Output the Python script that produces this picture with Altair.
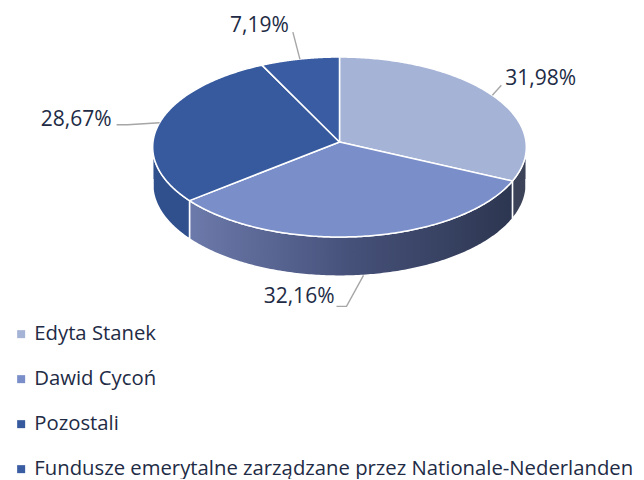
import altair as alt
import pandas as pd

# ---------------- data ----------------
names = [
    "Edyta Stanek",
    "Dawid Cycoń",
    "Pozostali",
    "Fundusze emerytalne zarządzane przez Nationale-Nederlanden",
]
values = [31.98, 32.16, 28.67, 7.19]
top_colors = ["#A5B3D6", "#7A8ECA", "#375A9F", "#3A5CA2"]

# ---------------- layout / style ----------------
W, H = 628, 471
CX, CY = 331.5, 134.0      # pie centre (chart coords, y down)
RX, RY = 186.5, 89.7       # rim radii
PERSP = 0.0556             # perspective strength
DEPTH = 37.0               # side height
N = 160                    # arc resolution
FONT = "Open Sans"
TEXT_COLOR = "#222B45"
LEADER = "#A6A6A6"

# label leader layout per slice: elbow offset, horizontal tail, text align, text offset
label_layout = [
    dict(ex=9, ey=-10, tail=0, align="left", tx=4, ty=0, front=False),
    dict(ex=-17, ey=31, tail=-10, align="right", tx=-2, ty=-3, front=True),
    dict(ex=-32, ey=2, tail=-11, align="right", tx=-5, ty=1, front=False),
    dict(ex=-7, ey=-27, tail=0, align="right", tx=-4, ty=0, front=False),
]

starts = []
acc = 0.0
for v in values:
    starts.append(acc)
    acc += v

xs = alt.Scale(domain=[0, W], nice=False, zero=False)
ys = alt.Scale(domain=[0, H], nice=False, zero=False, reverse=True)


def rim(th):
    s = f"(1/(1+{PERSP}*cos({th})))"
    return (f"{CX}+{RX}*sin({th})*{s}", f"{CY}-{RY}*cos({th})*{s}", s)


# ---------------- side faces ----------------
side_rows = []
for i, (n, v, st) in enumerate(zip(names, values, starts)):
    for k in range(N + 1):
        side_rows.append(dict(name=n, value=v, start=st, k=k))
side_df = pd.DataFrame(side_rows)

sx, sy, ss = rim("datum.th")
side_base = (
    alt.Chart(side_df)
    .transform_calculate(lo="max(datum.start, 25)", hi="min(datum.start + datum.value, 75)")
    .transform_filter("datum.hi > datum.lo")
    .transform_calculate(th=f"2*PI*(datum.lo + (datum.hi - datum.lo)*datum.k/{N})/100")
    .transform_calculate(x=sx, y=sy, y2=f"{sy} + {DEPTH}*{ss}")
)

dawid_grad = alt.Gradient(
    gradient="linear",
    stops=[alt.GradientStop(color="#6C7AAB", offset=0),
           alt.GradientStop(color="#46517A", offset=0.5),
           alt.GradientStop(color="#2D3650", offset=1)],
    x1=0, x2=1, y1=0, y2=0,
)
side_fills = ["#3C4358", dawid_grad, "#2F4F8D", "#2F4F8D"]

side_layers = []
for n, f in zip(names, side_fills):
    side_layers.append(
        side_base.transform_filter(alt.datum.name == n)
        .mark_area(fill=f, stroke="white", strokeWidth=1.5)
        .encode(
            x=alt.X("x:Q", scale=xs, axis=None),
            y=alt.Y("y:Q", scale=ys, axis=None),
            y2="y2:Q",
        )
    )

# ---------------- top faces ----------------
top_rows = []
for n, v, st in zip(names, values, starts):
    for o in range(N + 3):
        top_rows.append(dict(name=n, value=v, start=st, o=o))
top_df = pd.DataFrame(top_rows)

tx_, ty_, _ = rim("datum.th")
top = (
    alt.Chart(top_df)
    .transform_calculate(
        t=f"clamp((datum.o - 1)/{N}, 0, 1)",
        apex=f"datum.o == 0 || datum.o == {N + 2}",
    )
    .transform_calculate(th="2*PI*(datum.start + datum.value*datum.t)/100")
    .transform_calculate(
        x=f"datum.apex ? {CX} : {tx_}",
        y=f"datum.apex ? {CY} : {ty_}",
    )
    .mark_line(stroke="white", strokeWidth=1.5, strokeJoin="round")
    .encode(
        x=alt.X("x:Q", scale=xs, axis=None),
        y=alt.Y("y:Q", scale=ys, axis=None),
        order="o:Q",
        fill=alt.Fill(
            "name:N",
            scale=alt.Scale(domain=names, range=top_colors),
            sort=names,
            legend=alt.Legend(
                title=None,
                orient="none",
                legendX=3,
                legendY=316,
                direction="vertical",
                symbolType="square",
                symbolSize=64,
                symbolStrokeWidth=0,
                symbolOpacity=1,
                labelFont=FONT,
                labelFontSize=20.3,
                labelColor=TEXT_COLOR,
                labelLimit=800,
                labelOffset=3,
                rowPadding=24,
            ),
        ),
        detail="name:N",
    )
)

# ---------------- leader lines and labels ----------------
lead_rows = []
lab_rows = []
for n, v, st, L in zip(names, values, starts, label_layout):
    mid = st + v / 2
    pts = [(0, 0), (L["ex"], L["ey"]), (L["ex"] + L["tail"], L["ey"])]
    for j, (dx, dy) in enumerate(pts):
        lead_rows.append(dict(name=n, mid=mid, step=j, dx=dx, dy=dy,
                              front=1 if L["front"] else 0))
    ex, ey = pts[-1]
    lab_rows.append(dict(name=n, value=v, mid=mid, dx=ex + L["tx"], dy=ey + L["ty"],
                         align=L["align"], front=1 if L["front"] else 0))
lead_df = pd.DataFrame(lead_rows)
lab_df = pd.DataFrame(lab_rows)

mx, my, ms = rim("datum.th")
leaders = (
    alt.Chart(lead_df)
    .transform_calculate(th="2*PI*datum.mid/100")
    .transform_calculate(
        x=f"{mx} + datum.dx",
        y=f"{my} + datum.front*{DEPTH}*{ms} + datum.dy",
    )
    .mark_line(color=LEADER, strokeWidth=1.4)
    .encode(
        x=alt.X("x:Q", scale=xs, axis=None),
        y=alt.Y("y:Q", scale=ys, axis=None),
        order="step:Q",
        detail="name:N",
    )
)

label_base = (
    alt.Chart(lab_df)
    .transform_calculate(th="2*PI*datum.mid/100")
    .transform_calculate(
        x=f"{mx} + datum.dx",
        y=f"{my} + datum.front*{DEPTH}*{ms} + datum.dy",
        label="replace(format(datum.value, '.2f'), '.', ',') + '%'",
    )
)
label_layers = []
for al in ["left", "right"]:
    label_layers.append(
        label_base.transform_filter(alt.datum.align == al)
        .mark_text(align=al, baseline="alphabetic", font=FONT, fontSize=21, color=TEXT_COLOR)
        .encode(
            x=alt.X("x:Q", scale=xs, axis=None),
            y=alt.Y("y:Q", scale=ys, axis=None),
            text="label:N",
        )
    )

chart = (
    alt.layer(*side_layers, top, leaders, *label_layers)
    .properties(width=W, height=H, padding=0, autosize="none")
    .configure_view(stroke=None)
)

chart.save("out.html", embed_options={"renderer": "svg", "actions": False})
